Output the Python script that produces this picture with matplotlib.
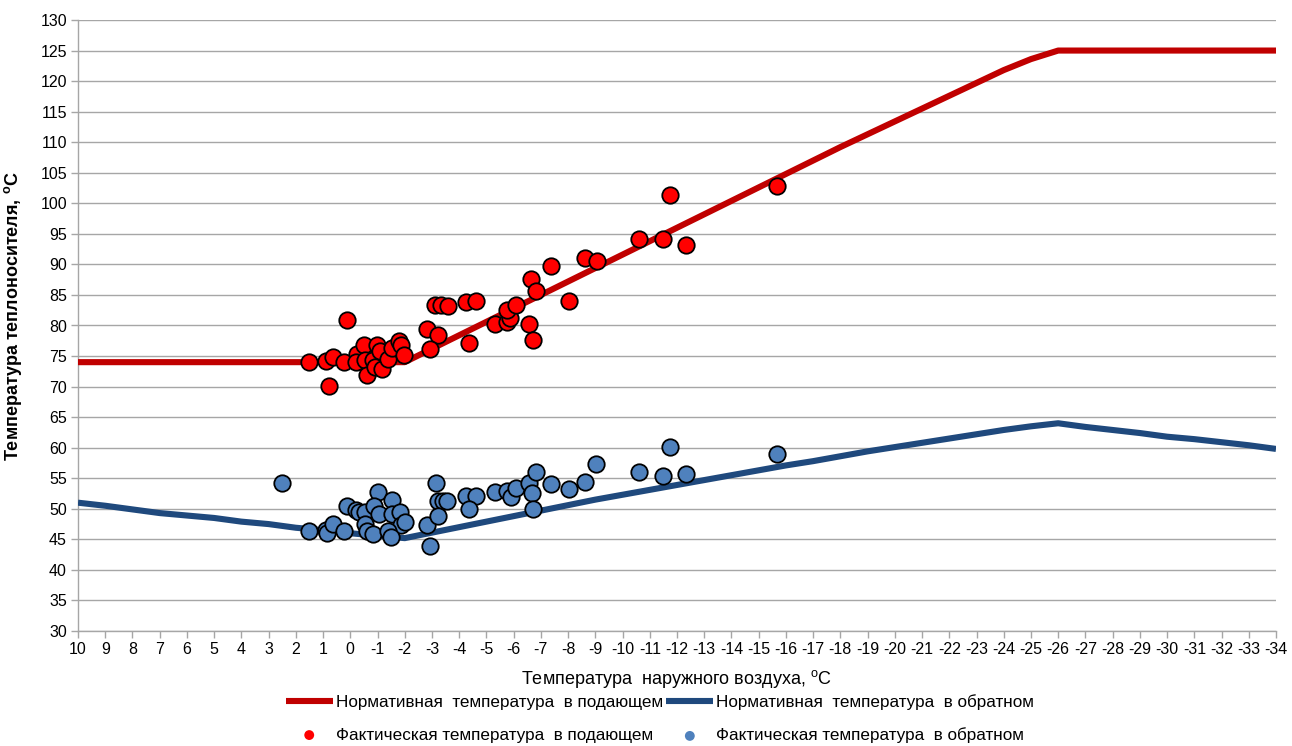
import matplotlib
matplotlib.use("Agg")
import matplotlib.pyplot as plt
from matplotlib.ticker import FixedLocator

plt.rcParams['font.family'] = ['Liberation Sans', 'DejaVu Sans']
plt.rcParams['mathtext.fontset'] = 'custom'
plt.rcParams['mathtext.rm'] = 'Liberation Sans'
plt.rcParams['mathtext.bf'] = 'Liberation Sans:bold'
plt.rcParams['axes.unicode_minus'] = False

# Outdoor temperature grid for the standard schedules
outdoor_grid = list(range(10, -35, -1))

# Standard supply temperature, one value per degree from +10 to -34
supply_norm = [74.0, 74.0, 74.0, 74.0, 74.0, 74.0, 74.0, 74.0, 74.0, 74.0,
               74.0, 74.0, 74.0, 76.2, 78.4, 80.6, 82.8, 85.0, 87.2, 89.4,
               91.6, 93.8, 96.0, 98.2, 100.4, 102.6, 104.8, 107.0, 109.2,
               111.3, 113.4, 115.5, 117.6, 119.7, 121.8, 123.6, 125.0,
               125.0, 125.0, 125.0, 125.0, 125.0, 125.0, 125.0, 125.0]

# Standard return temperature, one value per degree from +10 to -34
return_norm = [51.0, 50.5, 49.9, 49.3, 48.9, 48.5, 47.9, 47.5, 46.9, 46.5,
               46.0, 45.6, 45.2, 46.1, 47.0, 47.9, 48.8, 49.7, 50.6, 51.5,
               52.3, 53.1, 53.9, 54.7, 55.5, 56.3, 57.1, 57.8, 58.6, 59.4,
               60.1, 60.8, 61.5, 62.2, 62.9, 63.5, 64.0, 63.4, 62.9, 62.4,
               61.8, 61.4, 60.9, 60.4, 59.8]

# Measured supply temperature
supply_fact_x = [1.51, 0.89, 0.65, 0.23, 0.13, 0.79, -0.23, -0.50, -0.21, -0.54,
                 -0.62, -0.82, -0.99, -0.91, -1.09, -1.15, -1.40, -1.52, -1.80,
                 -1.88, -1.97, -2.80, -3.23, -2.93, -3.11, -3.32, -3.60, -4.25,
                 -4.62, -4.37, -5.31, -5.77, -5.86, -5.74, -6.09, -6.57, -6.72,
                 -6.64, -6.82, -7.37, -8.04, -8.62, -9.05, -10.60, -11.47,
                 -11.76, -12.33, -15.66]
supply_fact_y = [74.1, 74.2, 74.8, 74.1, 80.9, 70.1, 75.3, 76.8, 74.1, 74.4,
                 71.9, 74.4, 76.8, 73.2, 75.9, 72.8, 74.5, 76.3, 77.4, 76.8,
                 75.2, 79.5, 78.4, 76.1, 83.4, 83.3, 83.2, 83.9, 84.0, 77.2,
                 80.2, 80.6, 81.2, 82.5, 83.4, 80.2, 77.7, 87.6, 85.7, 89.7,
                 84.0, 91.0, 90.6, 94.1, 94.1, 101.3, 93.1, 102.8]

# Measured return temperature
return_fact_x = [2.49, 1.51, 0.89, 0.85, 0.65, 0.23, 0.11, -0.21, -0.33, -0.54,
                 -0.54, -0.62, -0.84, -1.00, -0.88, -1.06, -1.52, -1.54, -1.83,
                 -1.85, -2.01, -1.40, -1.48, -2.80, -2.93, -3.15, -3.23, -3.39,
                 -3.54, -3.23, -4.25, -4.62, -4.37, -5.31, -5.77, -5.90, -6.09,
                 -6.57, -6.66, -6.72, -6.82, -7.37, -8.04, -8.62, -9.02, -10.60,
                 -11.49, -11.74, -12.33, -15.66]
return_fact_y = [54.2, 46.4, 46.5, 46.0, 47.5, 46.4, 50.5, 49.8, 49.5, 49.5,
                 47.5, 46.4, 45.9, 52.8, 50.5, 49.1, 51.4, 49.1, 49.5, 47.3,
                 47.9, 46.4, 45.4, 47.3, 43.9, 54.3, 51.3, 51.3, 51.2, 48.8,
                 52.1, 52.1, 50.0, 52.8, 52.9, 51.9, 53.4, 54.3, 52.6, 49.9,
                 56.0, 54.0, 53.2, 54.4, 57.3, 56.0, 55.4, 60.1, 55.7, 58.9]

label_supply_norm = "Нормативная  температура  в подающем"
label_return_norm = "Нормативная  температура  в обратном"
label_supply_fact = "Фактическая температура  в подающем"
label_return_fact = "Фактическая температура  в обратном"

W, H = 1292, 746
fig = plt.figure(figsize=(W / 100, H / 100), dpi=100)
ax = fig.add_axes([78 / W, (H - 631) / H, 1198 / W, 611 / H])

l1, = ax.plot(outdoor_grid, supply_norm, color='#C00000', lw=4.4,
              solid_capstyle='butt', zorder=3)
l2, = ax.plot(outdoor_grid, return_norm, color='#1F497D', lw=4.4,
              solid_capstyle='butt', zorder=3)
s1 = ax.scatter(supply_fact_x, supply_fact_y, s=140, color='#FF0000',
                edgecolors='black', linewidths=1.3, zorder=4)
s2 = ax.scatter(return_fact_x, return_fact_y, s=140, color='#4F81BD',
                edgecolors='black', linewidths=1.3, zorder=4)

ax.set_xlim(10, -34)
ax.set_ylim(30, 130)
ax.xaxis.set_major_locator(FixedLocator(outdoor_grid))
ax.set_xticklabels([str(v) for v in outdoor_grid])
ax.yaxis.set_major_locator(FixedLocator(range(30, 131, 5)))

ax.grid(axis='y', color='#A6A6A6', lw=1.0)
ax.grid(axis='x', visible=False)
ax.set_axisbelow(True)
for side in ('top', 'right'):
    ax.spines[side].set_visible(False)
for side in ('left', 'bottom'):
    ax.spines[side].set_color('#A6A6A6')
    ax.spines[side].set_linewidth(1.0)
ax.tick_params(axis='both', colors='#A6A6A6', length=5, width=1.0,
               labelcolor='black', labelsize=11.5)
ax.tick_params(axis='x', pad=3)
ax.tick_params(axis='y', pad=3)

ax.set_ylabel("Температура теплоносителя, $^{\\mathbf{o}}$C", fontsize=13,
              fontweight='bold')
ax.yaxis.set_label_coords(-0.045, 0.515)
ax.set_xlabel("Температура  наружного воздуха, $^{\\rm o}$C", fontsize=13)
ax.xaxis.set_label_coords(0.5, -0.06)

leg = fig.legend([l1, s1, l2, s2],
                 [label_supply_norm, label_supply_fact,
                  label_return_norm, label_return_fact],
                 loc='center', bbox_to_anchor=(660 / W, (H - 719) / H),
                 ncol=2, frameon=False, fontsize=12.3, handlelength=2.75,
                 handletextpad=0.18, columnspacing=0.2, labelspacing=1.0,
                 markerscale=0.6, borderpad=0.0)
for h in leg.legend_handles[1::2]:
    h.set_edgecolor('none')

fig.savefig("out.png", dpi=100)
